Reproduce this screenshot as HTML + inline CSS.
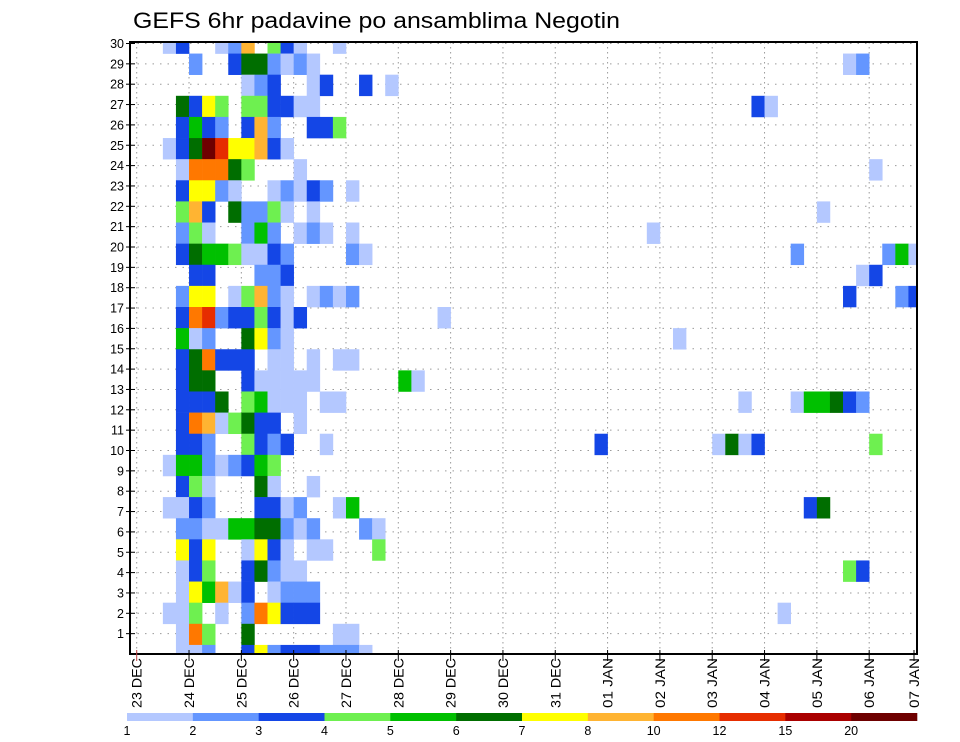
<!DOCTYPE html>
<html><head><meta charset="utf-8"><style>
html,body{margin:0;padding:0;background:#fff;}
svg{display:block;font-family:"Liberation Sans",sans-serif;}
</style></head><body>
<svg id="chart" width="960" height="742" viewBox="0 0 960 742" xmlns="http://www.w3.org/2000/svg">
<rect x="0" y="0" width="960" height="742" fill="#fff"/>
<text x="133" y="28" font-size="22" textLength="487" lengthAdjust="spacingAndGlyphs" fill="#000">GEFS 6hr padavine po ansamblima Negotin</text>
<g id="grid"></g>
<g id="cells"></g>
<g id="axes"></g>
<g id="colorbar"></g>
</svg>
<script>
// ---- data ----
const dateLabels = ["23 DEC","24 DEC","25 DEC","26 DEC","27 DEC","28 DEC","29 DEC","30 DEC","31 DEC","01 JAN","02 JAN","03 JAN","04 JAN","05 JAN","06 JAN","07 JAN"];
const memberLabels = [1,2,3,4,5,6,7,8,9,10,11,12,13,14,15,16,17,18,19,20,21,22,23,24,25,26,27,28,29,30];
const levelLabels = ["1","2","3","4","5","6","7","8","10","12","15","20"];
const levelColors = ["#b4c8ff","#6496ff","#1446e6","#6ef050","#00c000","#006e00","#ffff00","#ffb432","#ff7800","#e62d00","#aa0000","#6e0000"];
// each row: "step+level" pairs; step = 6-hr step from 23 DEC 00Z, level letter a..l = class 1..12
const rowCells = [
"2a 3c 6a 7b 8h 10d 11c 12a 15a",
"4b 7c 8f 9f 10b 11a 12b 13a 54a 55b",
"8a 9b 10c 13a 14c 17c 19a",
"3f 4c 5g 6d 8d 9d 10c 11c 12a 13a 47c 48a",
"3c 4e 5c 6b 8c 9h 10b 13c 14c 15d",
"2a 3c 4f 5l 6j 7g 8g 9h 10c 11a",
"3a 4i 5i 6i 7f 8d 12a 56a",
"3c 4g 5g 6b 7a 10a 11b 12a 13c 14b 16a",
"3d 4h 5c 7f 8b 9b 10d 11a 13a 52a",
"3b 4d 5a 8b 9e 10b 12a 13b 14a 16a 39a",
"3c 4f 5e 6e 7d 8a 9a 10c 11b 16b 17a 50b 57b 58e 59a",
"4c 5c 9b 10b 11c 55a 56c",
"3b 4g 5g 7a 8d 9h 10b 11a 13a 14b 15a 16b 54c 58b 59c",
"3c 4i 5j 6b 7c 8c 9d 10c 11a 12c 23a",
"3e 4a 5b 8f 9g 10b 11a 41a",
"3c 4f 5i 6c 7c 8c 10a 11a 13a 15a 16a",
"3c 4f 5f 8c 9a 10a 11a 12a 13a 20e 21a",
"3c 4c 5c 6f 8d 9e 10a 11a 12a 14a 15a 46a 50a 51e 52e 53f 54c 55b",
"3c 4i 5h 6a 7d 8f 9c 10c 12a",
"3c 4c 5b 8d 9c 10b 11c 14a 35c 44a 45f 46a 47c 56d",
"2a 3e 4e 5b 6a 7b 8c 9e 10d",
"3c 4d 5a 9f 10a 13a",
"2a 3a 4c 5b 9c 10c 11a 12b 15a 16e 51c 52f",
"3b 4b 5a 6a 7e 8e 9f 10f 11b 12a 13b 17b 18a",
"3g 4c 5g 8a 9g 10c 11a 13a 14a 18d",
"3a 4c 5d 8c 9f 10b 11a 12a 54d 55c",
"3a 4g 5e 6h 7a 8c 10a 11b 12b 13b",
"2a 3a 4d 6a 8b 9i 10g 11c 12c 13c 49a",
"3a 4i 5d 8f 15a 16a",
"3a 4a 5b 8c 9g 10b 11c 12c 13c 14b 15b 16b 17a"
];
// ---- layout ----
const NS = "http://www.w3.org/2000/svg";
const L = 130, T = 42, R = 917, B = 654;
const x0 = 136.7, dayW = 52.32, stepW = dayW / 4;
const rowH = 21.12, rowTop = 43;
function xStep(s){ return x0 + s * stepW; }
function xDay(d){ return x0 + d * dayW; }
function yRow(k){ return rowTop + k * rowH; }
function yLabel(m){ return 654 - m * 20.35; }
function mk(tag, attrs, parent){
  const e = document.createElementNS(NS, tag);
  for (const k in attrs) e.setAttribute(k, attrs[k]);
  parent.appendChild(e); return e;
}
const grid = document.getElementById('grid');
const cells = document.getElementById('cells');
const axes = document.getElementById('axes');
const cbar = document.getElementById('colorbar');

// grid lines
dateLabels.forEach((d, i) => {
  const x = xDay(i);
  if (x > L && x < R) {
    const g = mk('line', {x1:x, y1:T, x2:x, y2:B, stroke:'#9a9a9a', 'stroke-width':1, 'stroke-dasharray':'1.5,3.5'}, grid);
    
    
  }
});
memberLabels.forEach(m => {
  const y = yLabel(m);
  const g = mk('line', {x1:L, y1:y, x2:R, y2:y, stroke:'#9a9a9a', 'stroke-width':1, 'stroke-dasharray':'1.5,6'}, grid);
  
  
});

// cells
const clip = mk('clipPath', {id:'plotclip'}, document.getElementById('chart'));
mk('rect', {x:L, y:T, width:R-L, height:B-T}, clip);
cells.setAttribute('clip-path', 'url(#plotclip)');
rowCells.forEach((row, k) => {
  row.split(' ').forEach(tok => {
    const step = parseInt(tok, 10);
    const lev = tok.charCodeAt(tok.length - 1) - 97;
    const r = mk('rect', {x:xStep(step), y:yRow(k) - rowH/2, width:stepW + 0.3, height:rowH + 0.3, fill:levelColors[lev]}, cells);
    
    
  });
});

// frame
const frame = mk('rect', {x:L, y:T, width:R-L, height:B-T, fill:'none', stroke:'#000', 'stroke-width':2}, axes);



// y ticks + labels
memberLabels.forEach(m => {
  const y = yLabel(m);
  mk('line', {x1:L-4, y1:y, x2:L+5, y2:y, stroke:'#000', 'stroke-width':1}, axes);
  const t = mk('text', {x:124, y:y + 4.5, 'font-size':12.5, 'text-anchor':'end', fill:'#000'}, axes);
  t.textContent = String(m);
  
  
});

// x ticks + labels
dateLabels.forEach((d, i) => {
  const x = Math.min(xDay(i), R - 3);
  mk('line', {x1:x, y1:B - 4, x2:x, y2:B + 7, stroke: i === 0 ? '#c04040' : '#000', 'stroke-width':1}, axes);
  const t = mk('text', {x:0, y:0, 'font-size':13.5, fill:'#000', transform:'translate(' + (x + 5) + ',708) rotate(-90)', textLength:50, lengthAdjust:'spacingAndGlyphs'}, axes);
  t.textContent = d;
  
  
});

// colorbar
const cbL = 127, cbR = 917, cbY = 713, cbH = 8;
const segW = (cbR - cbL) / levelColors.length;
levelColors.forEach((c, i) => {
  const r = mk('rect', {x:cbL + i*segW, y:cbY, width:segW + 0.3, height:cbH, fill:c}, cbar);
  
  
});
levelLabels.forEach((lab, i) => {
  const t = mk('text', {x:cbL + i*segW, y:735, 'font-size':12.5, 'text-anchor':'middle', fill:'#000'}, cbar);
  t.textContent = lab;
  
  
});
</script>
</body></html>
